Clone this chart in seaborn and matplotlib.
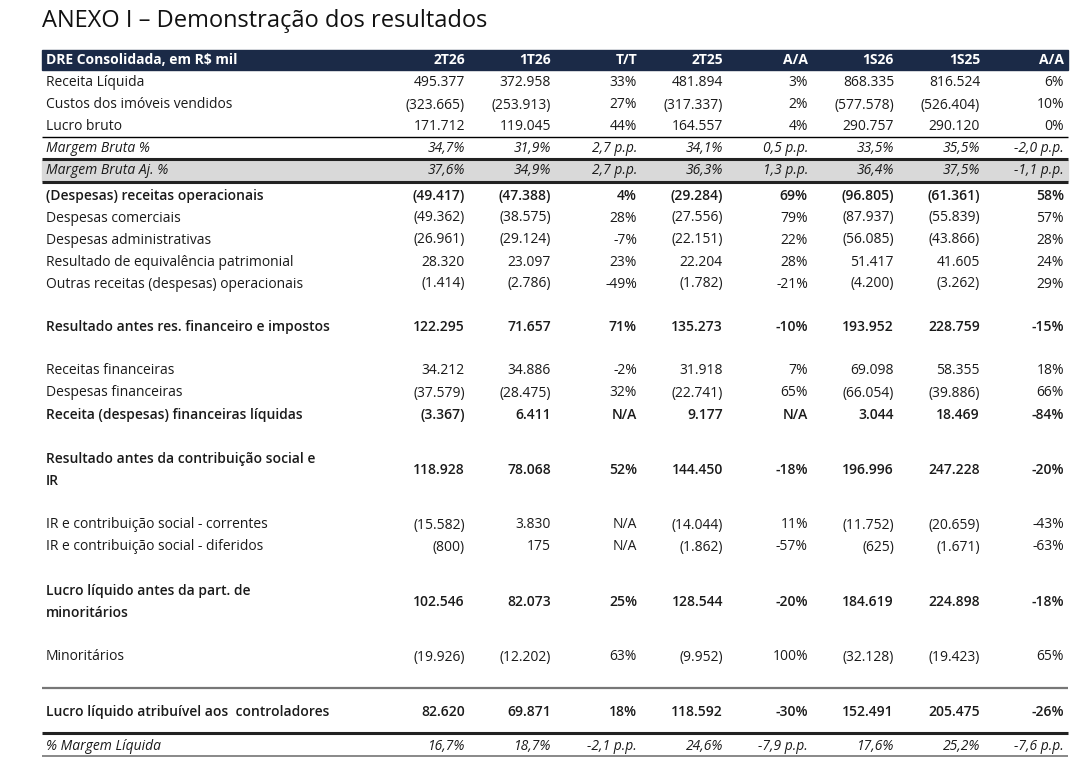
import matplotlib.pyplot as plt
import seaborn as sns

sns.set_theme(style="white")
plt.rcParams["font.family"] = ["Open Sans", "DejaVu Sans"]

TITLE = "ANEXO I – Demonstração dos resultados"
HEADER = ["DRE Consolidada, em R$ mil", "2T26", "1T26", "T/T", "2T25", "A/A", "1S26", "1S25", "A/A"]

labels = [
    "Receita Líquida", "Custos dos imóveis vendidos", "Lucro bruto", "Margem Bruta %",
    "Margem Bruta Aj. %", "(Despesas) receitas operacionais", "Despesas comerciais",
    "Despesas administrativas", "Resultado de equivalência patrimonial",
    "Outras receitas (despesas) operacionais", "Resultado antes res. financeiro e impostos",
    "Receitas financeiras", "Despesas financeiras", "Receita (despesas) financeiras líquidas",
    "Resultado antes da contribuição social e\nIR", "IR e contribuição social - correntes",
    "IR e contribuição social - diferidos", "Lucro líquido antes da part. de\nminoritários",
    "Minoritários", "Lucro líquido atribuível aos  controladores", "% Margem Líquida",
]
q2t26 = ["495.377", "(323.665)", "171.712", "34,7%", "37,6%", "(49.417)", "(49.362)", "(26.961)",
         "28.320", "(1.414)", "122.295", "34.212", "(37.579)", "(3.367)", "118.928", "(15.582)",
         "(800)", "102.546", "(19.926)", "82.620", "16,7%"]
q1t26 = ["372.958", "(253.913)", "119.045", "31,9%", "34,9%", "(47.388)", "(38.575)", "(29.124)",
         "23.097", "(2.786)", "71.657", "34.886", "(28.475)", "6.411", "78.068", "3.830",
         "175", "82.073", "(12.202)", "69.871", "18,7%"]
tt = ["33%", "27%", "44%", "2,7 p.p.", "2,7 p.p.", "4%", "28%", "-7%", "23%", "-49%", "71%",
      "-2%", "32%", "N/A", "52%", "N/A", "N/A", "25%", "63%", "18%", "-2,1 p.p."]
q2t25 = ["481.894", "(317.337)", "164.557", "34,1%", "36,3%", "(29.284)", "(27.556)", "(22.151)",
         "22.204", "(1.782)", "135.273", "31.918", "(22.741)", "9.177", "144.450", "(14.044)",
         "(1.862)", "128.544", "(9.952)", "118.592", "24,6%"]
aa_q = ["3%", "2%", "4%", "0,5 p.p.", "1,3 p.p.", "69%", "79%", "22%", "28%", "-21%", "-10%",
        "7%", "65%", "N/A", "-18%", "11%", "-57%", "-20%", "100%", "-30%", "-7,9 p.p."]
s1s26 = ["868.335", "(577.578)", "290.757", "33,5%", "36,4%", "(96.805)", "(87.937)", "(56.085)",
         "51.417", "(4.200)", "193.952", "69.098", "(66.054)", "3.044", "196.996", "(11.752)",
         "(625)", "184.619", "(32.128)", "152.491", "17,6%"]
s1s25 = ["816.524", "(526.404)", "290.120", "35,5%", "37,5%", "(61.361)", "(55.839)", "(43.866)",
         "41.605", "(3.262)", "228.759", "58.355", "(39.886)", "18.469", "247.228", "(20.659)",
         "(1.671)", "224.898", "(19.423)", "205.475", "25,2%"]
aa_s = ["6%", "10%", "0%", "-2,0 p.p.", "-1,1 p.p.", "58%", "57%", "28%", "24%", "29%", "-15%",
        "18%", "66%", "-84%", "-20%", "-43%", "-63%", "-18%", "65%", "-26%", "-7,6 p.p."]

row_y = [83, 105, 127, 149, 171, 196, 218, 240, 262, 284, 327, 371, 393, 415, 470, 525, 547,
         602, 657, 712, 746]
bold_rows = {5, 10, 13, 14, 17, 19}
italic_rows = {3, 4, 20}

col_x = [465, 551, 637, 723, 808, 894, 980, 1064]
columns = [q2t26, q1t26, tt, q2t25, aa_q, s1s26, s1s25, aa_s]

navy = "#1b2a47"
fig = plt.figure(figsize=(10.83, 7.57), dpi=100)
ax = fig.add_axes([0, 0, 1, 1])
ax.set_xlim(0, 1083)
ax.set_ylim(757, 0)
ax.axis("off")

ax.text(42, 21, TITLE, fontsize=17, color="#111", va="center", ha="left")
ax.axhspan(50, 70, xmin=42 / 1083, xmax=1068 / 1083, color=navy)
ax.text(46, 60.5, HEADER[0], color="white", fontsize=10, fontweight="bold", va="center")
for x, h in zip(col_x, HEADER[1:]):
    ax.text(x, 60.5, h, color="white", fontsize=10, fontweight="bold", va="center", ha="right")

ax.axhspan(160, 181, xmin=42 / 1083, xmax=1068 / 1083, color="#d9d9d9")
for y, lw, c in [(137, 1, "black"), (159, 2.2, "#222"), (182, 2.2, "#222"),
                 (688, 1.6, "#777"), (733, 2.2, "#222"), (756, 1.4, "#888")]:
    ax.plot([42, 1068], [y, y], color=c, lw=lw, solid_capstyle="butt")

for i, (lab, y) in enumerate(zip(labels, row_y)):
    style = "italic" if i in italic_rows else "normal"
    weight = "semibold" if i in bold_rows else "normal"
    ax.text(46, y, lab, fontsize=10, va="center", ha="left", style=style,
            fontweight=weight, color="#1a1a1a", linespacing=1.8)
    for x, col in zip(col_x, columns):
        ax.text(x, y, col[i], fontsize=10, va="center", ha="right", style=style,
                fontweight=weight, color="#1a1a1a")

fig.savefig("out.png", dpi=100)
